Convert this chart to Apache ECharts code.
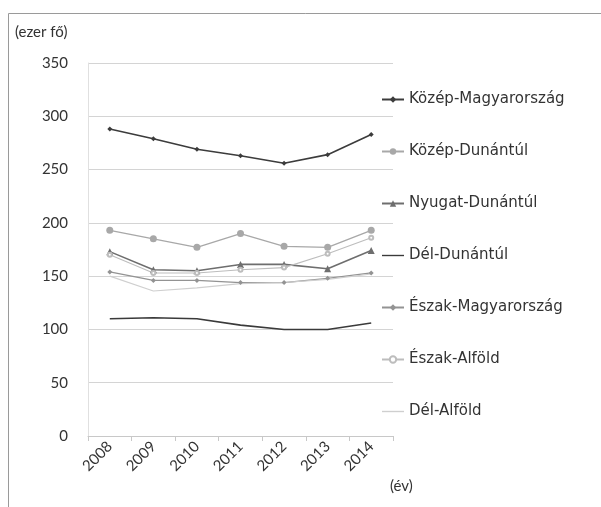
<!DOCTYPE html>
<html><head><meta charset="utf-8">
<script src="https://cdn.jsdelivr.net/npm/echarts@6/dist/echarts.min.js"></script>
<style>html,body{margin:0;padding:0;background:#fff}#c{width:601px;height:507px}</style>
</head><body><div id="c"></div>
<script>
var years = ['2008','2009','2010','2011','2012','2013','2014'];
var seriesNames = ['Közép-Magyarország','Közép-Dunántúl','Nyugat-Dunántúl','Dél-Dunántúl','Észak-Magyarország','Észak-Alföld','Dél-Alföld'];
var kozepMagyarorszag = [288, 279, 269, 263, 256, 264, 283];
var kozepDunantul = [193, 185, 177, 190, 178, 177, 193];
var nyugatDunantul = [173, 156, 155, 161, 161, 157, 174];
var delDunantul = [110, 111, 110, 104, 100, 100, 106];
var eszakMagyarorszag = [154, 146, 146, 144, 144, 148, 153];
var eszakAlfold = [170, 153, 153, 156, 158, 171, 186];
var delAlfold = [150, 136, 139, 143, 144, 147, 152];
var yTicks = [0, 50, 100, 150, 200, 250, 300, 350];

var font = 'Lato, "Open Sans", sans-serif';
var styles = [
  {c:'#3c3c3c', s:'diamond', z:5, w:1.6},
  {c:'#a8a8a8', s:'circle', z:7, w:1.3},
  {c:'#6e6e6e', s:'triangle', z:7, w:1.6},
  {c:'#3a3a3a', s:'none', z:0, w:1.6},
  {c:'#939393', s:'diamond', z:5, w:1.3},
  {c:'#bdbdbd', s:'emptyCircle', z:4, w:1.1},
  {c:'#cfcfcf', s:'none', z:0, w:1.1}
];
var vals = [kozepMagyarorszag, kozepDunantul, nyugatDunantul, delDunantul, eszakMagyarorszag, eszakAlfold, delAlfold];
var series = seriesNames.map(function(n,i){
  return {name:n, type:'line', data:vals[i], symbol:styles[i].s, symbolSize:styles[i].z,
    showSymbol: styles[i].s!=='none',
    lineStyle:{color:styles[i].c, width:styles[i].w}, itemStyle:{color:styles[i].c}, emphasis:{disabled:true}};
});
var legendData = seriesNames.map(function(n,i){
  var d = {name:n};
  if (styles[i].s === 'none') { d.icon = 'path://M0,0 L24,0 L24,1.5 L0,1.5 Z'; }
  return d;
});
var chart = echarts.init(document.getElementById('c'));
chart.setOption({
  animation:false,
  backgroundColor:'#fff',
  graphic:[
    {type:'rect', shape:{x:8.5,y:13.5,width:600,height:500}, style:{fill:'none', stroke:'#9a9a9a', lineWidth:1}},
    {type:'text', left:15, top:25, style:{text:'(ezer fő)', font:'15px '+font, fill:'#333'}},
    {type:'text', left:390, top:479, style:{text:'(év)', font:'15px '+font, fill:'#333'}}
  ],
  legend:{orient:'vertical', left:376, top:87, itemGap:37, itemWidth:22, itemHeight:8,
    textStyle:{fontFamily:'"DejaVu Sans", sans-serif', fontSize:15, color:'#333'}, data:legendData},
  grid:{left:88, right:208, top:63, bottom:71},
  xAxis:{type:'category', data:years, boundaryGap:true,
    axisLine:{lineStyle:{color:'#c8c8c8'}}, axisTick:{show:true, lineStyle:{color:'#c8c8c8'}},
    axisLabel:{rotate:45, fontFamily:font, fontSize:15, color:'#333', margin:8}},
  yAxis:{type:'value', min:0, max:350, interval:50,
    axisLine:{show:true, lineStyle:{color:'#e0e0e0'}}, axisTick:{show:false},
    splitLine:{lineStyle:{color:'#d4d4d4'}},
    axisLabel:{fontFamily:font, fontSize:15, color:'#333', margin:20,
      formatter:function(v){return yTicks.indexOf(v)>=0?String(v):'';}}},
  series:series
});
</script></body></html>
